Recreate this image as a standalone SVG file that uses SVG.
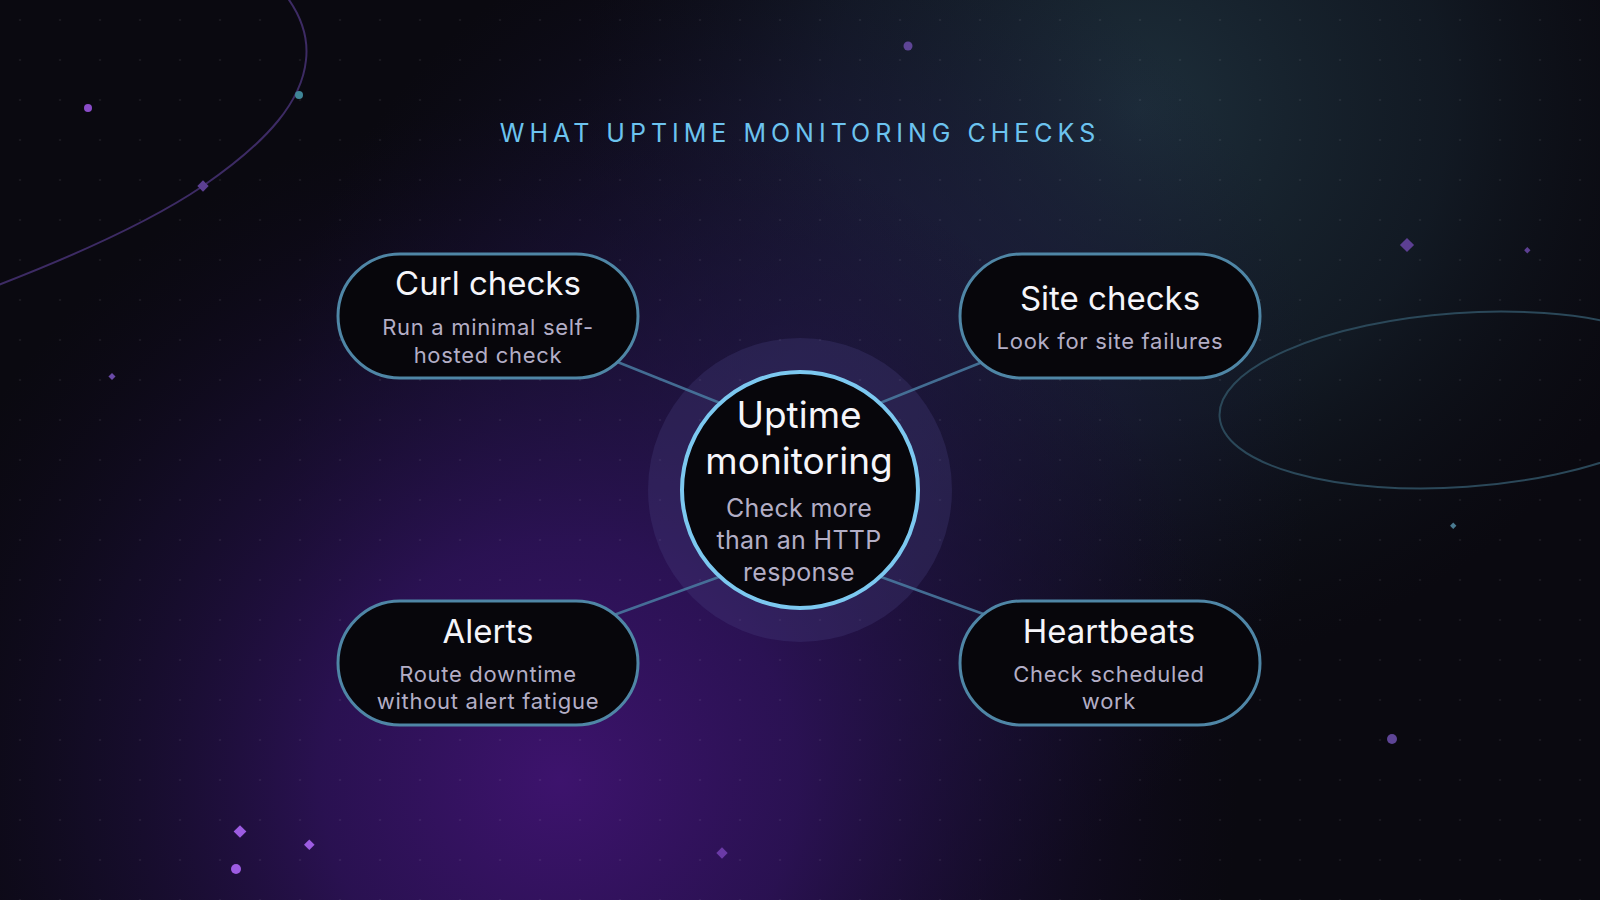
<svg xmlns="http://www.w3.org/2000/svg" width="1600" height="900" viewBox="0 0 1600 900">
  <defs>
    <radialGradient id="gPurple" cx="560" cy="780" r="680" gradientUnits="userSpaceOnUse">
      <stop offset="0" stop-color="#3d136d" stop-opacity="1"/>
      <stop offset="0.35" stop-color="#2d1258" stop-opacity="0.9"/>
      <stop offset="0.7" stop-color="#1c0f3a" stop-opacity="0.5"/>
      <stop offset="1" stop-color="#120a24" stop-opacity="0"/>
    </radialGradient>
    <radialGradient id="gMid" cx="800" cy="420" r="520" gradientUnits="userSpaceOnUse">
      <stop offset="0" stop-color="#262150" stop-opacity="0.85"/>
      <stop offset="0.6" stop-color="#1d1840" stop-opacity="0.4"/>
      <stop offset="1" stop-color="#151230" stop-opacity="0"/>
    </radialGradient>
    <radialGradient id="gTeal" cx="1140" cy="110" r="560" gradientUnits="userSpaceOnUse">
      <stop offset="0" stop-color="#1d2e3a" stop-opacity="1"/>
      <stop offset="0.55" stop-color="#15202b" stop-opacity="0.7"/>
      <stop offset="1" stop-color="#0e131b" stop-opacity="0"/>
    </radialGradient>
    <pattern id="dots" x="0" y="0" width="40" height="40" patternUnits="userSpaceOnUse">
      <circle cx="20" cy="20" r="1.1" fill="#ffffff" fill-opacity="0.07"/>
    </pattern>
    <style>
      .node rect { fill: #07060b; stroke: #4f86a6; stroke-width: 3; }
      .title { font-family: Inter, "Liberation Sans", sans-serif; font-size: 33px; fill: #f5f5fa; text-anchor: middle; }
      .sub { font-family: Inter, "Liberation Sans", sans-serif; font-size: 22px; letter-spacing: 0.7px; fill: #b3aec6; text-anchor: middle; }
      .ctitle { font-family: Inter, "Liberation Sans", sans-serif; font-size: 37px; fill: #f5f5fa; text-anchor: middle; }
      .csub { font-family: Inter, "Liberation Sans", sans-serif; font-size: 25px; letter-spacing: 0.3px; fill: #b3aec6; text-anchor: middle; }
      .heading { font-family: Inter, "Liberation Sans", sans-serif; font-size: 25px; fill: #6cc3ef; text-anchor: middle; letter-spacing: 5px; }
      .conn line { stroke: #4a7ca2; stroke-width: 2.5; stroke-opacity: 0.85; }
      .pp { fill: #5c3f92; }
      .pb { fill: #9d5ce2; }
    </style>
  </defs>

  <!-- background -->
  <rect width="1600" height="900" fill="#0a0910"/>
  <rect width="1600" height="900" fill="url(#gTeal)"/>
  <rect width="1600" height="900" fill="url(#gMid)"/>
  <rect width="1600" height="900" fill="url(#gPurple)"/>
  <rect width="1600" height="900" fill="url(#dots)"/>

  <!-- decorative orbits -->
  <path d="M 262,-30 C 290,-5 310,25 306,60 C 302,100 270,140 203,186 C 150,222 70,258 -20,292" fill="none" stroke="#3d2b64" stroke-width="2"/>
  <ellipse cx="1461" cy="400" rx="242" ry="87" transform="rotate(-4 1461 400)" fill="none" stroke="#2b4859" stroke-width="2"/>

  <!-- particles -->
  <circle cx="88" cy="108" r="4" fill="#8a4cc8"/>
  <circle cx="299" cy="95" r="4" fill="#3f8597"/>
  <rect x="199" y="182" width="8" height="8" transform="rotate(45 203 186)" class="pp"/>
  <circle cx="908" cy="46" r="4.5" fill="#5e4596"/>
  <rect x="1402" y="240" width="10" height="10" transform="rotate(45 1407 245)" class="pp"/>
  <rect x="1525" y="248" width="4.5" height="4.5" transform="rotate(45 1527.3 250.3)" class="pp"/>
  <rect x="1451" y="523.5" width="4.5" height="4.5" transform="rotate(45 1453.3 525.7)" fill="#4a7a90"/>
  <rect x="109.5" y="374" width="5" height="5" transform="rotate(45 112 376.5)" fill="#6a4aa8"/>
  <circle cx="1392" cy="739" r="5" fill="#5e4596"/>
  <rect x="235.5" y="827" width="9" height="9" transform="rotate(45 240 831.5)" class="pb"/>
  <rect x="305.5" y="841" width="7.5" height="7.5" transform="rotate(45 309.3 844.8)" class="pb"/>
  <circle cx="236" cy="869" r="5" class="pb"/>
  <rect x="718" y="849" width="8" height="8" transform="rotate(45 722 853)" fill="#6b3aa6"/>

  <!-- heading -->
  <text class="heading" x="800" y="142">WHAT UPTIME MONITORING CHECKS</text>

  <!-- halo -->
  <circle cx="800" cy="490" r="152" fill="#4a4485" fill-opacity="0.28"/>

  <!-- connectors -->
  <g id="connectors" class="conn">
    <line x1="600" y1="355" x2="730" y2="407"/>
    <line x1="1000" y1="355" x2="870" y2="407"/>
    <line x1="600" y1="620" x2="730" y2="573"/>
    <line x1="1000" y1="620" x2="870" y2="573"/>
  </g>

  <!-- center node -->
  <g id="node-center">
    <circle cx="800" cy="490" r="118" fill="#07060b" stroke="#7cc8f0" stroke-width="4"/>
    <text class="ctitle" x="799" y="428">Uptime</text>
    <text class="ctitle" x="799" y="474">monitoring</text>
    <text class="csub" x="799" y="517">Check more</text>
    <text class="csub" x="799" y="549">than an HTTP</text>
    <text class="csub" x="799" y="581">response</text>
  </g>

  <g id="node-curl" class="node">
    <rect x="338" y="254" width="300" height="124" rx="62" ry="62"/>
    <text class="title" x="488" y="295">Curl checks</text>
    <text class="sub" x="488" y="335">Run a minimal self-</text>
    <text class="sub" x="488" y="363">hosted check</text>
  </g>

  <g id="node-site" class="node">
    <rect x="960" y="254" width="300" height="124" rx="62" ry="62"/>
    <text class="title" x="1110" y="310">Site checks</text>
    <text class="sub" x="1110" y="349">Look for site failures</text>
  </g>

  <g id="node-alerts" class="node">
    <rect x="338" y="601" width="300" height="124" rx="62" ry="62"/>
    <text class="title" x="488" y="643">Alerts</text>
    <text class="sub" x="488" y="682">Route downtime</text>
    <text class="sub" x="488" y="709">without alert fatigue</text>
  </g>

  <g id="node-heartbeats" class="node">
    <rect x="960" y="601" width="300" height="124" rx="62" ry="62"/>
    <text class="title" x="1109" y="643">Heartbeats</text>
    <text class="sub" x="1109" y="682">Check scheduled</text>
    <text class="sub" x="1109" y="709">work</text>
  </g>
</svg>
